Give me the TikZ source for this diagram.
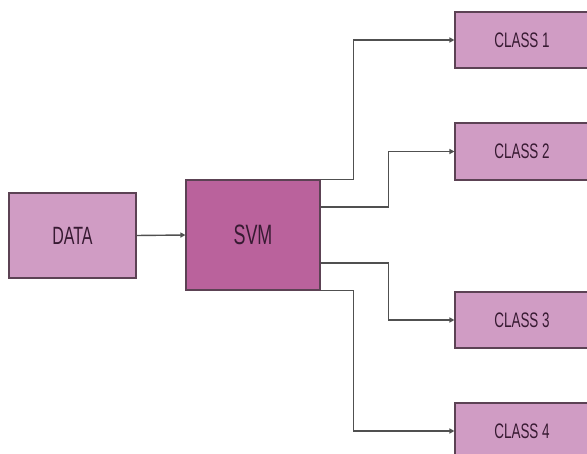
\documentclass[tikz,border=0pt]{standalone}
\usepackage{fontspec}
\setmainfont[FakeStretch=0.64]{Liberation Sans}
\usetikzlibrary{arrows.meta}
\definecolor{boxlight}{RGB}{208,156,196}
\definecolor{boxdark}{RGB}{186,98,156}
\definecolor{boxline}{RGB}{92,66,84}
\definecolor{txtcol}{RGB}{55,26,50}
\definecolor{linecol}{RGB}{80,80,80}
\tikzset{
  box/.style={draw=boxline, line width=1.1pt, fill=boxlight, text=txtcol, inner sep=0pt},
  svmbox/.style={box, fill=boxdark},
  cls/.style={box, minimum width=134pt, minimum height=56pt, font=\fontsize{21}{24}\selectfont},
  conn/.style={draw=linecol, line width=1.4pt, -{Triangle[length=5pt,width=5pt]}},
}
\begin{document}
\begin{tikzpicture}[x=1pt,y=-1pt]
\useasboundingbox (0,0) rectangle (587,454);
\fill[white] (0,0) rectangle (587,454);
\node[box, minimum width=127pt, minimum height=85pt, font=\fontsize{25}{28}\selectfont] (data) at (72.5,235.5) {DATA};
\node[svmbox, minimum width=134pt, minimum height=110pt, font=\fontsize{28}{32}\selectfont] (svm) at (253,235) {SVM};
\node[cls] (c1) at (522,40) {CLASS 1};
\node[cls, minimum height=57pt] (c2) at (522,151.5) {CLASS 2};
\node[cls] (c3) at (522,320) {CLASS 3};
\node[cls] (c4) at (522,431) {CLASS 4};
\draw[conn] (data.east) -- (svm.west);
\draw[conn] (svm.north east) -- ++(33,0) |- (c1.west);
\draw[conn] ([yshift=28pt]svm.east) -- ++(68,0) |- (c2.west);
\draw[conn] ([yshift=-28pt]svm.east) -- ++(68,0) |- (c3.west);
\draw[conn] (svm.south east) -- ++(33,0) |- (c4.west);
\end{tikzpicture}
\end{document}
